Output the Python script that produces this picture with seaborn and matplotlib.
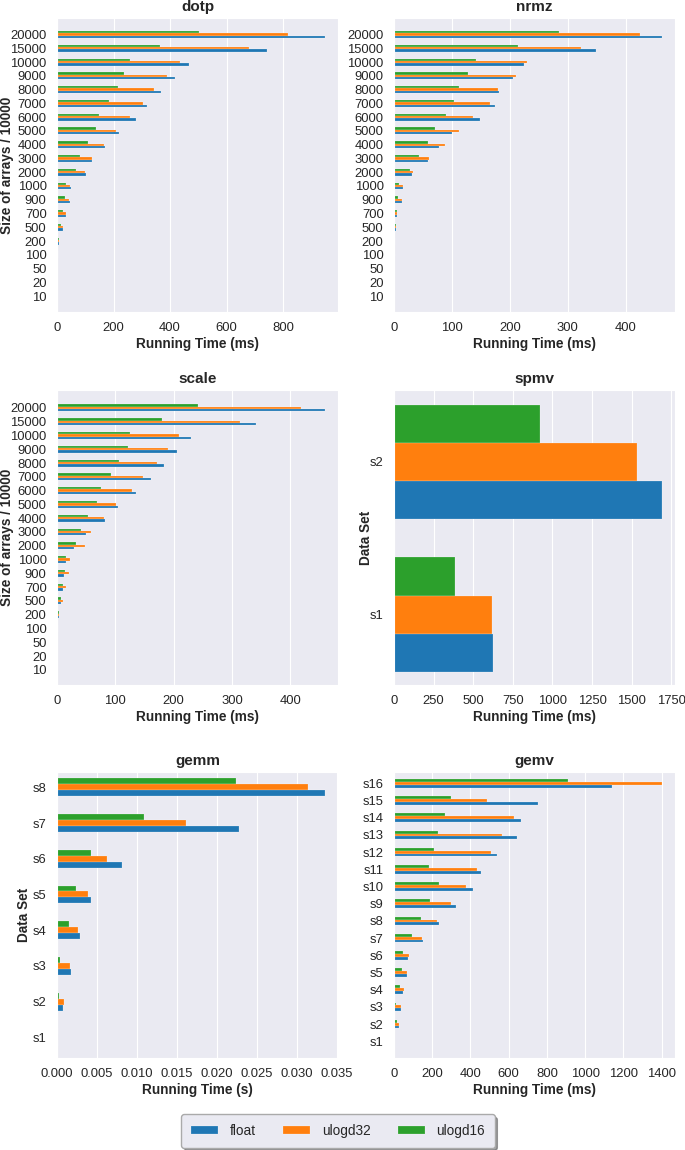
import numpy as np
import pandas as pd
import matplotlib
matplotlib.use("Agg")
import matplotlib.pyplot as plt
from matplotlib.ticker import MultipleLocator
import seaborn as sns

sns.set_style("darkgrid")
plt.rcParams['font.family'] = ['Liberation Sans', 'DejaVu Sans']

# ---------------- data ----------------
types = ['float', 'ulogd32', 'ulogd16']
colors = {'float': '#1f77b4', 'ulogd32': '#ff7f0e', 'ulogd16': '#2ca02c'}

sizes = ['10', '20', '50', '100', '200', '500', '700', '900', '1000', '2000',
         '3000', '4000', '5000', '6000', '7000', '8000', '9000', '10000', '15000', '20000']

dotp_float = [0.2, 0.4, 1.5, 4, 8, 22, 33, 45, 51, 104, 125, 169, 219, 278, 320, 369, 416, 468, 742, 947]
dotp_u32 = [0.2, 0.4, 1.5, 4, 8, 22, 33, 41, 47, 100, 125, 165, 210, 258, 303, 344, 388, 435, 678, 819]
dotp_u16 = [0.1, 0.3, 1, 2, 6, 14, 22, 28, 31, 67, 80, 111, 139, 150, 183, 217, 236, 258, 366, 502]

nrmz_float = [0.05, 0.1, 0.2, 0.3, 1, 4, 6, 14, 16, 31, 58, 78, 100, 148, 174, 182, 206, 225, 348, 462]
nrmz_u32 = [0.05, 0.1, 0.2, 2, 1, 4, 6, 14, 16, 32, 60, 88, 113, 137, 165, 180, 210, 229, 323, 425]
nrmz_u16 = [0.05, 0.1, 0.1, 0.2, 1, 3.5, 5, 7, 8, 27, 43, 58, 71, 89, 104, 113, 127, 142, 214, 284]

scale_float = [0.1, 0.2, 0.8, 1, 3, 7.5, 11, 12, 15, 30, 50, 82, 104, 136, 161, 184, 205, 230, 341, 459]
scale_u32 = [0.1, 0.2, 0.8, 2, 4, 10, 16, 20, 23, 48, 59, 80, 102, 128, 147, 172, 191, 209, 314, 419]
scale_u16 = [0.1, 0.2, 0.8, 1, 3, 7, 11, 14, 15, 33, 41, 54, 68, 76, 92, 106, 121, 126, 180, 242]

spmv_sets = ['s1', 's2']
spmv_float = [622, 1689]
spmv_u32 = [616, 1535]
spmv_u16 = [384, 919]

gemm_sets = ['s1', 's2', 's3', 's4', 's5', 's6', 's7', 's8']
gemm_float = [0.00008, 0.00075, 0.0018, 0.00293, 0.00431, 0.00817, 0.02282, 0.0335]
gemm_u32 = [0.00004, 0.00092, 0.00159, 0.00268, 0.00394, 0.00628, 0.01616, 0.03145]
gemm_u16 = [0.00008, 0.00021, 0.00038, 0.00147, 0.00239, 0.00431, 0.01089, 0.02236]

gemv_sets = ['s%d' % i for i in range(1, 17)]
gemv_float = [2, 24, 35, 47, 68, 72, 150, 236, 323, 412, 456, 538, 645, 664, 751, 1141]
gemv_u32 = [2, 24, 35, 51, 66, 77, 145, 224, 297, 376, 435, 507, 563, 626, 489, 1400]
gemv_u16 = [1, 14, 10, 30, 40, 47, 93, 142, 189, 236, 183, 208, 232, 266, 297, 910]


def long_df(cats, f, u32, u16):
    rows = []
    for t, vals in zip(types, [f, u32, u16]):
        for c, v in zip(cats, vals):
            rows.append({'cat': c, 'time': v, 'type': t})
    return pd.DataFrame(rows)


fig = plt.figure(figsize=(6.85, 11.5), dpi=100)
W, H = 685, 1150


def make_ax(l, r, t, b):
    return fig.add_axes([l / W, 1 - b / H, (r - l) / W, (b - t) / H])


TICK = 9.4
LAB = 9.8
TIT = 11

panels = [
    dict(name='dotp', cats=sizes, data=(dotp_float, dotp_u32, dotp_u16), box=(57, 338, 18, 312),
         ylabel='Size of arrays / 10000', ylx=14, xlabel='Running Time (ms)', width=0.5, pad=(1.2, 1.15), step=200),
    dict(name='nrmz', cats=sizes, data=(nrmz_float, nrmz_u32, nrmz_u16), box=(394, 675, 18, 312),
         ylabel='', ylx=None, xlabel='Running Time (ms)', width=0.5, pad=(1.2, 1.15), step=100),
    dict(name='scale', cats=sizes, data=(scale_float, scale_u32, scale_u16), box=(57, 338, 390, 685),
         ylabel='Size of arrays / 10000', ylx=14, xlabel='Running Time (ms)', width=0.5, pad=(1.3, 1.1), step=100),
    dict(name='spmv', cats=spmv_sets, data=(spmv_float, spmv_u32, spmv_u16), box=(394, 675, 390, 685),
         ylabel='Data Set', ylx=373, xlabel='Running Time (ms)', width=0.75, pad=(0.47, 0.46), step=250),
    dict(name='gemm', cats=gemm_sets, data=(gemm_float, gemm_u32, gemm_u16), box=(57, 338, 772, 1058),
         ylabel='Data Set', ylx=31, xlabel='Running Time (s)', width=0.5, pad=(0.43, 0.58), step=0.005),
    dict(name='gemv', cats=gemv_sets, data=(gemv_float, gemv_u32, gemv_u16), box=(394, 675, 772, 1058),
         ylabel='', ylx=None, xlabel='Running Time (ms)', width=0.5, pad=(0.66, 0.97), step=200),
]

handles = None
for p in panels:
    ax = make_ax(*p['box'])
    df = long_df(p['cats'], *p['data'])
    order = list(reversed(p['cats']))
    sns.barplot(data=df, x='time', y='cat', hue='type', orient='h', order=order,
                hue_order=['ulogd16', 'ulogd32', 'float'], palette=colors,
                saturation=1, width=p['width'], errorbar=None, ax=ax,
                edgecolor=(1, 1, 1, 0.4), linewidth=0.35)
    if handles is None:
        h, l = ax.get_legend_handles_labels()
        hd = dict(zip(l, h))
        handles = [hd[t] for t in types]
    if ax.get_legend() is not None:
        ax.get_legend().remove()
    n = len(p['cats'])
    ax.set_ylim(n - 1 + p['pad'][1], -p['pad'][0])
    ax.xaxis.set_major_locator(MultipleLocator(p['step']))
    ax.set_title(p['name'], fontsize=TIT, fontweight='bold', pad=5)
    ax.set_xlabel(p['xlabel'], fontsize=LAB, fontweight='bold', labelpad=2)
    ax.set_ylabel(p['ylabel'], fontsize=LAB, fontweight='bold')
    if p['ylabel']:
        l, r, t, b = p['box']
        ax.yaxis.set_label_coords((p['ylx'] - l) / (r - l), 0.5)
    ax.tick_params(axis='both', labelsize=TICK, pad=4)

leg = fig.legend(handles, types, loc='center', bbox_to_anchor=(338 / W, 1 - 1131 / H),
                 ncol=3, frameon=True, fancybox=True, shadow=True, fontsize=9.8,
                 handlelength=2.0, handleheight=0.5, handletextpad=0.85, columnspacing=2.0,
                 borderpad=0.7)
leg.get_frame().set_facecolor('#EAEAF2')
leg.get_frame().set_edgecolor('#AAAAAA')
leg.get_frame().set_alpha(1)

fig.savefig('out.png', dpi=100)
